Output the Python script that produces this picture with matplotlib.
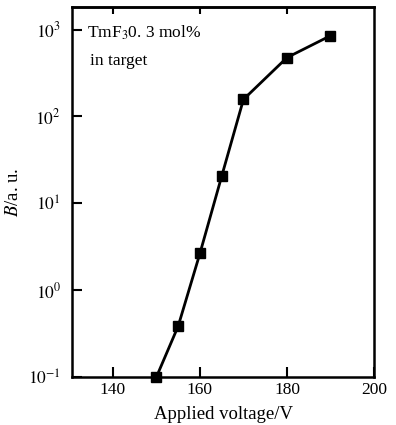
import matplotlib
matplotlib.use('Agg')
import matplotlib.pyplot as plt
import numpy as np

plt.rcParams['font.family'] = ['Liberation Serif', 'DejaVu Serif']
plt.rcParams['mathtext.fontset'] = 'stix'

voltage = [150, 155, 160, 165, 170, 180, 190]
brightness = [0.1, 0.385, 2.65, 20.5, 157, 476, 850]

fig = plt.figure(figsize=(3.96, 4.25), dpi=100)
ax = fig.add_axes([72/396, 48/425, 302/396, 370/425])

ax.plot(voltage, brightness, color='black', lw=2, marker='s', ms=7,
        clip_on=False, zorder=3)
ax.set_yscale('log')
ax.set_xlim(130.6, 200)
ax.set_ylim(0.1, 10**3.26)

ax.set_xticks([140, 160, 180, 200])
ax.set_xticklabels(['140', '160', '180', '200'])
ax.set_yticks([0.1, 1, 10, 100, 1000])
ax.set_yticklabels(['$10^{-1}$', '$10^{0}$', '$10^{1}$', '$10^{2}$', '$10^{3}$'])
ax.minorticks_off()
ax.tick_params(direction='in', length=7, width=1.5, labelsize=12.5)
ax.tick_params(axis='y', pad=8)
for s in ax.spines.values():
    s.set_linewidth(1.8)

# short ticks along the top edge
top = ax.secondary_xaxis('top')
top.set_xticks([140, 160, 180])
top.tick_params(direction='in', length=5, width=1.5, labeltop=False)
top.spines['top'].set_linewidth(1.8)

ax.set_xlabel('Applied voltage/V', fontsize=13.5, labelpad=6)
ax.set_ylabel('$B$/a. u.', fontsize=13.5, labelpad=4)

ax.text(0.05, 0.955, 'TmF$_3$0. 3 mol%', transform=ax.transAxes,
        fontsize=12.5, va='top')
ax.text(0.06, 0.875, 'in target', transform=ax.transAxes,
        fontsize=12.5, va='top')

fig.savefig('out.png', dpi=100)
